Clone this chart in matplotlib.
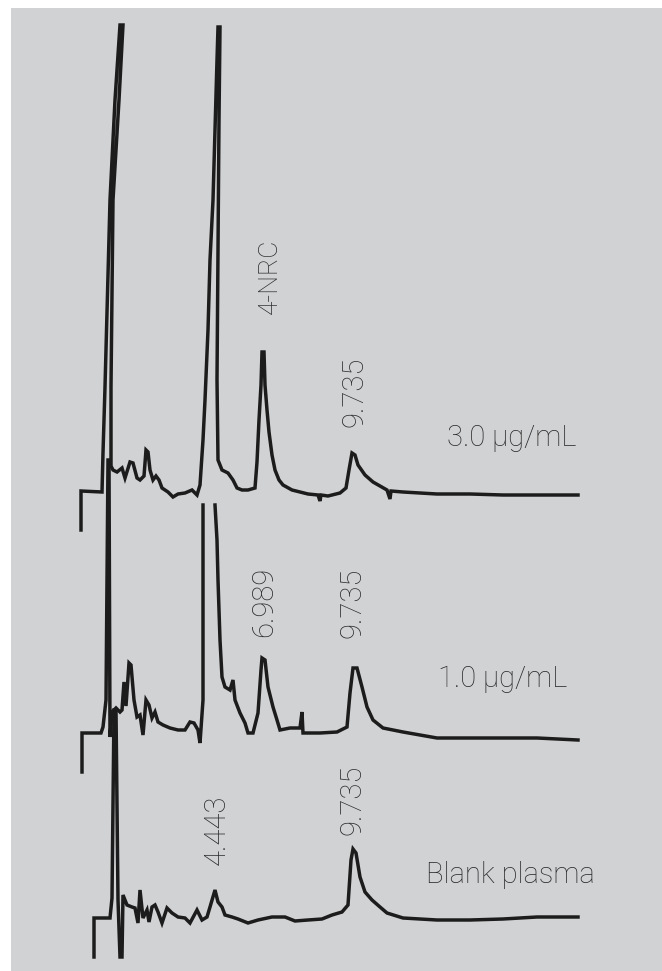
import numpy as np
import matplotlib.pyplot as plt
from matplotlib.patches import Rectangle

# retention time (min) and detector signal (relative to each trace baseline)
# 3.0 ug/mL sample
t_high = [1.62, 1.62, 2.04, 2.06, 2.10, 2.20, 2.30, 2.40, 2.46, 2.38, 2.26, 2.22,
          2.22, 2.26, 2.34, 2.44, 2.50, 2.60, 2.66, 2.74, 2.80, 2.88, 2.92,
          2.96, 3.00, 3.06, 3.12, 3.18, 3.24, 3.36, 3.46, 3.56, 3.70, 3.84, 3.94,
          4.00, 4.06, 4.10, 4.16, 4.20, 4.26, 4.30, 4.34, 4.36, 4.40, 4.38, 4.36,
          4.34, 4.36, 4.44, 4.56, 4.66, 4.74, 4.84, 4.96, 5.10, 5.14, 5.18, 5.22,
          5.24, 5.28, 5.30, 5.34, 5.38, 5.44, 5.50, 5.58, 5.66, 5.84, 6.00, 6.16,
          6.36, 6.40, 6.42, 6.56, 6.80, 6.92, 6.98, 7.04, 7.10, 7.16, 7.30, 7.46,
          7.74, 7.80, 7.82, 8.06, 8.74, 9.40, 10.06, 10.74, 11.56]
s_high = [-37, 2, 1, 40, 106, 293, 393, 468, 468, 393, 293, 106,
          27, 23, 21, 25, 15, 31, 30, 15, 13, 17, 43,
          41, 23, 13, 17, 13, 5, 1, -4, -1, 0, 3, -2,
          8, 53, 93, 163, 233, 293, 363, 433, 466, 466, 373, 243,
          113, 33, 23, 20, 13, 5, 3, 3, 5, 31, 73, 108,
          141, 141, 108, 83, 61, 38, 23, 13, 8, 3, 1, -1,
          -2, -8, -2, -3, 0, 5, 23, 40, 38, 28, 18, 11,
          3, -6, 2, 1, -1, -1, -2, -2, -2]

# 1.0 ug/mL sample (nan = pen off scale)
t_mid = [1.64, 1.64, 2.02, 2.06, 2.12, 2.16, 2.18, 2.20, 2.24, 2.32, 2.40, 2.44,
         2.48, 2.52, 2.58, 2.62, 2.68, 2.74, 2.80, 2.86, 2.92, 2.98, 3.04, 3.10,
         3.16, 3.26, 3.40, 3.56, 3.70, 3.80, 3.88, 3.96, 4.00, 4.06, 4.06, np.nan,
         4.30, 4.34, 4.36, 4.40, 4.44, 4.50, 4.60, 4.66, 4.70, 4.80, 4.90, 4.96,
         5.06, 5.16, 5.22, 5.24, 5.30, 5.36, 5.46, 5.54, 5.60, 5.80, 6.00, 6.04,
         6.06, 6.40, 6.74, 6.94, 7.00, 7.06, 7.14, 7.24, 7.34, 7.46, 7.66, 8.06,
         8.40, 8.74, 9.40, 10.06, 10.74, 11.56]
s_mid = [-34, 5, 5, 11, 38, 278, 278, 1, 26, 30, 26, 28,
         56, 32, 75, 73, 38, 21, 23, 3, 38, 33, 20, 26,
         16, 13, 10, 8, 8, 16, 15, 8, -5, 38, 233, np.nan,
         233, 198, 158, 98, 61, 51, 48, 58, 38, 25, 15, 5,
         5, 25, 68, 80, 78, 51, 31, 18, 8, 10, 10, 26,
         5, 5, 6, 11, 45, 70, 70, 51, 31, 18, 10, 6,
         3, 0, 0, 0, 0, -2]

# blank plasma
t_blank = [1.88, 1.88, 2.20, 2.24, 2.28, 2.32, 2.36, 2.40, 2.44, 2.46, 2.54, 2.64,
           2.70, 2.76, 2.80, 2.86, 2.94, 2.98, 3.04, 3.10, 3.16, 3.24, 3.34, 3.44,
           3.56, 3.70, 3.80, 3.94, 4.04, 4.14, 4.20, 4.30, 4.36, 4.44, 4.50, 4.64,
           4.76, 4.96, 5.16, 5.44, 5.70, 5.90, 6.16, 6.44, 6.64, 6.84, 6.96, 7.02,
           7.06, 7.12, 7.20, 7.30, 7.44, 7.60, 7.74, 8.06, 8.74, 9.40, 10.06, 10.74,
           11.56]
s_blank = [-39, 0, 0, 20, 208, 208, 18, -39, -39, 23, 13, 11,
           10, -5, 28, 0, 8, -4, 11, 13, 6, -5, 10, 5,
           1, 0, -5, 8, -2, 1, 11, 28, 16, 11, 3, 1,
           -1, -5, -2, 1, 1, -3, -2, -1, 3, 6, 13, 58,
           69, 65, 41, 26, 18, 11, 5, 0, -2, -2, -1, 1,
           1]

traces = [(t_high, s_high), (t_mid, s_mid), (t_blank, s_blank)]
offsets = [478, 233, 53]   # vertical stacking of the chromatograms

# peak labels: (time, height, text)
peak_labels = [(5.40, 695, "4-NRC"), (7.10, 579, "9.735"),
               (5.28, 369, "6.989"), (7.06, 368, "9.735"),
               (4.34, 141, "4.443"), (7.06, 171, "9.735")]
conc_labels = [(8.94, 525, "3.0 \u00b5g/mL"), (8.76, 284, "1.0 \u00b5g/mL"),
               (8.52, 88, "Blank plasma")]

plt.rcParams["font.family"] = ["Roboto", "DejaVu Sans"]

fig = plt.figure(figsize=(6.62, 9.71), dpi=100)
fig.patch.set_facecolor("white")

ax = fig.add_axes([0, 0, 1, 1])
ax.set_xlim(0, 13.24)
ax.set_ylim(0, 971)
ax.axis("off")

# grey panel behind the chromatograms
ax.add_patch(Rectangle((11 / 662, 0), 651 / 662, 963 / 971,
                       transform=fig.transFigure, facecolor="#d1d2d4",
                       edgecolor="none", zorder=0))

for (t, s), off in zip(traces, offsets):
    ax.plot(t, np.array(s, dtype=float) + off, color="#1c1c1c", lw=2.5,
            solid_joinstyle="miter", zorder=2)

for t, y, txt in peak_labels:
    size = 19 if txt == "4-NRC" else 21
    ax.text(t, y, txt, rotation=90, ha="center", va="center",
            fontsize=size, fontweight="light", color="#2a2a2a", zorder=3)

for t, y, txt in conc_labels:
    ax.text(t, y, txt, ha="left", va="baseline", fontsize=21,
            fontweight="light", color="#2a2a2a", zorder=3)

fig.savefig("out.png", dpi=100)
